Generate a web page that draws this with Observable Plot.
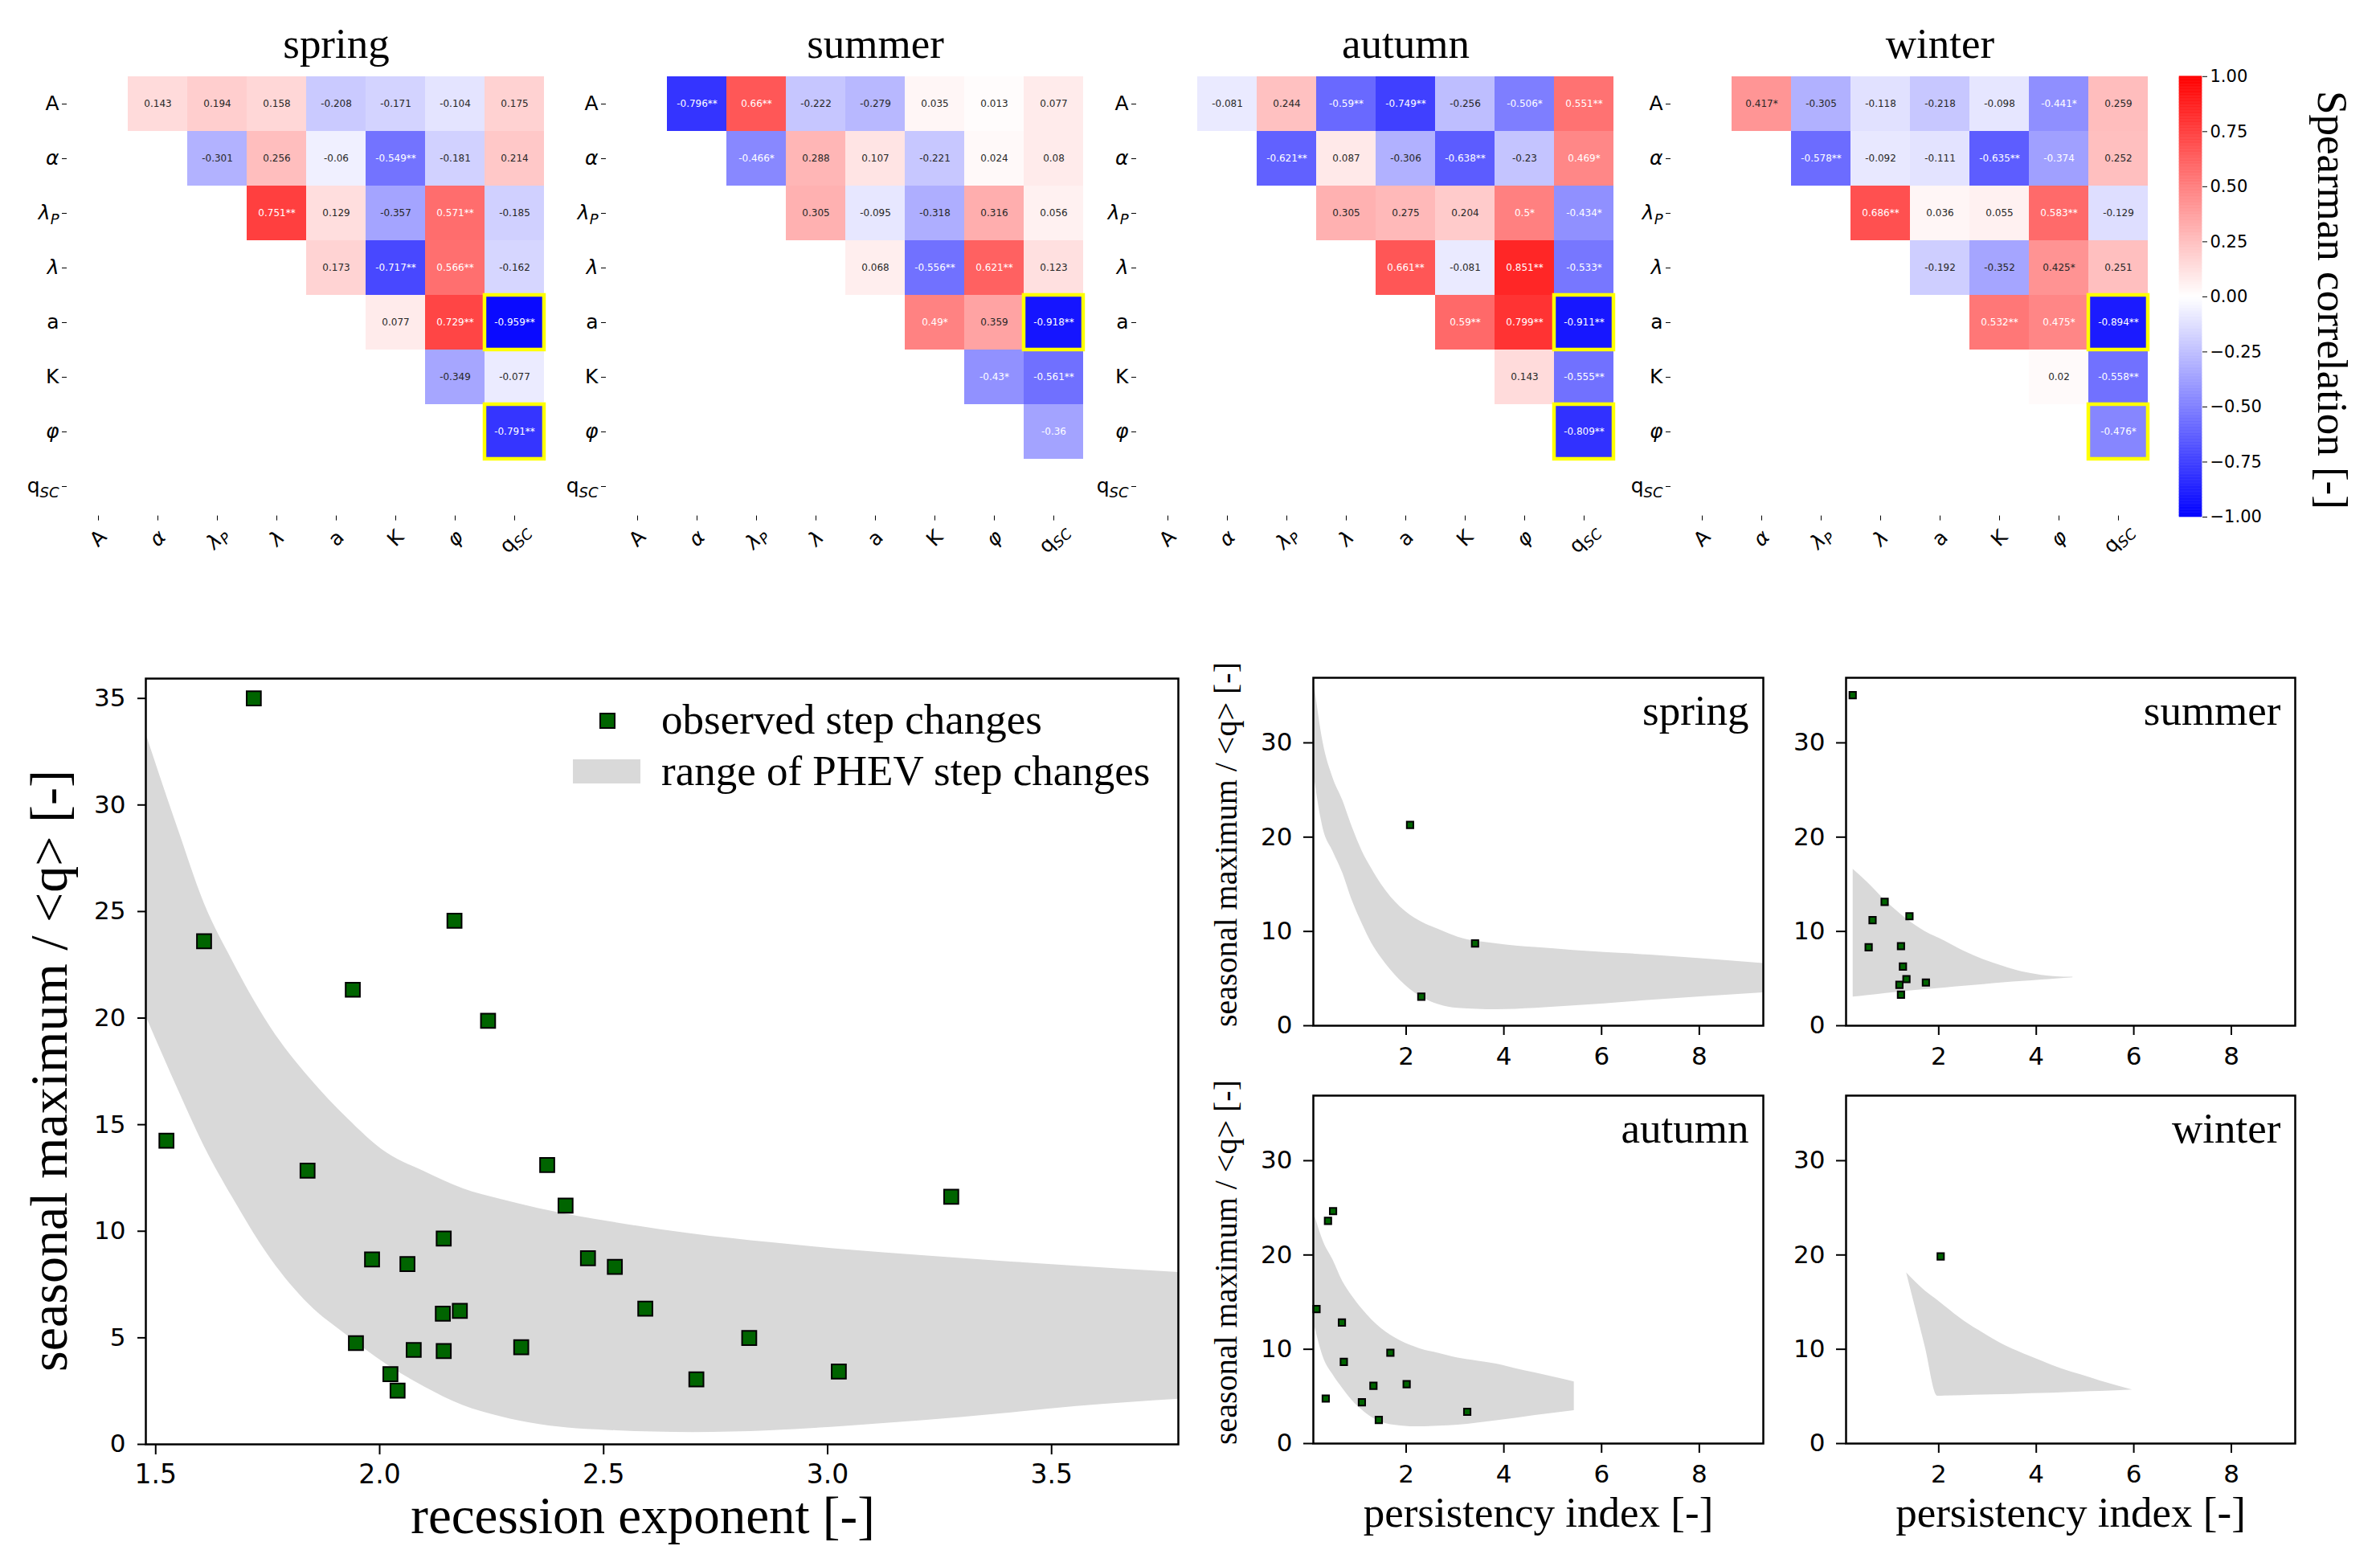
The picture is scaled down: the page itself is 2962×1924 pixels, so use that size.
<!DOCTYPE html>
<html>
<head>
<meta charset="utf-8">
<script src="https://cdn.jsdelivr.net/npm/d3@7"></script>
<script src="https://cdn.jsdelivr.net/npm/@observablehq/plot@0.6"></script>
<style>
  body { margin: 0; background: #fff; }
  #root { position: relative; width: 2962px; height: 1924px; overflow: hidden; background: #fff; }
  #root > svg, #root > div { position: absolute; }
  .serif { font-family: "Liberation Serif", "Times New Roman", serif; color: #000; white-space: nowrap; line-height: 1; }
</style>
</head>
<body>
<div id="root"></div>
<script>
// ---------------- DATA ----------------
const vars = ["A", "α", "λP", "λ", "a", "K", "φ", "qSC"];

// upper-triangle Spearman correlations, row by row (row i -> columns i+1..7)
const springCorr = [
  ["0.143", "0.194", "0.158", "-0.208", "-0.171", "-0.104", "0.175"],
  ["-0.301", "0.256", "-0.06", "-0.549**", "-0.181", "0.214"],
  ["0.751**", "0.129", "-0.357", "0.571**", "-0.185"],
  ["0.173", "-0.717**", "0.566**", "-0.162"],
  ["0.077", "0.729**", "-0.959**"],
  ["-0.349", "-0.077"],
  ["-0.791**"]
];
const summerCorr = [
  ["-0.796**", "0.66**", "-0.222", "-0.279", "0.035", "0.013", "0.077"],
  ["-0.466*", "0.288", "0.107", "-0.221", "0.024", "0.08"],
  ["0.305", "-0.095", "-0.318", "0.316", "0.056"],
  ["0.068", "-0.556**", "0.621**", "0.123"],
  ["0.49*", "0.359", "-0.918**"],
  ["-0.43*", "-0.561**"],
  ["-0.36"]
];
const autumnCorr = [
  ["-0.081", "0.244", "-0.59**", "-0.749**", "-0.256", "-0.506*", "0.551**"],
  ["-0.621**", "0.087", "-0.306", "-0.638**", "-0.23", "0.469*"],
  ["0.305", "0.275", "0.204", "0.5*", "-0.434*"],
  ["0.661**", "-0.081", "0.851**", "-0.533*"],
  ["0.59**", "0.799**", "-0.911**"],
  ["0.143", "-0.555**"],
  ["-0.809**"]
];
const winterCorr = [
  ["0.417*", "-0.305", "-0.118", "-0.218", "-0.098", "-0.441*", "0.259"],
  ["-0.578**", "-0.092", "-0.111", "-0.635**", "-0.374", "0.252"],
  ["0.686**", "0.036", "0.055", "0.583**", "-0.129"],
  ["-0.192", "-0.352", "0.425*", "0.251"],
  ["0.532**", "0.475*", "-0.894**"],
  ["0.02", "-0.558**"],
  ["-0.476*"]
];
// highlighted (row, column) cells
const springHighlight = [["a", "qSC"], ["φ", "qSC"]];
const summerHighlight = [["a", "qSC"]];
const autumnHighlight = [["a", "qSC"], ["φ", "qSC"]];
const winterHighlight = [["a", "qSC"], ["φ", "qSC"]];

const colorbarTicks = [-1, -0.75, -0.5, -0.25, 0, 0.25, 0.5, 0.75, 1];

// big scatter: all observed step changes
const obsExponent = [1.719, 1.608, 1.524, 1.839, 1.940, 2.167, 2.242, 2.374, 2.415, 3.276, 2.143, 1.983, 2.062, 2.465, 2.525, 2.593, 2.141, 2.179, 1.947, 2.076, 2.143, 2.316, 2.825, 2.024, 2.040, 2.707, 3.025];
const obsMaxRatio = [35.0, 23.61, 14.25, 12.84, 21.33, 24.57, 19.87, 13.11, 11.20, 11.62, 9.66, 8.68, 8.46, 8.73, 8.33, 6.37, 6.13, 6.26, 4.75, 4.43, 4.38, 4.56, 4.99, 3.29, 2.52, 3.05, 3.42];
// PHEV range vs recession exponent
const bandExponent = [1.478, 1.551, 1.608, 1.671, 1.757, 1.843, 1.928, 2.014, 2.10, 2.186, 2.27, 2.357, 2.528, 2.70, 2.871, 3.04, 3.21, 3.385, 3.556, 3.783];
const bandExpUpper = [33.35, 28.8, 25.4, 22.7, 19.55, 17.2, 15.3, 13.7, 12.8, 12.0, 11.5, 11.06, 10.4, 9.87, 9.47, 9.13, 8.86, 8.6, 8.36, 8.07];
const bandExpLower = [20.1, 16.6, 14.0, 11.6, 8.7, 6.55, 5.1, 3.77, 2.7, 1.83, 1.3, 0.93, 0.64, 0.56, 0.64, 0.85, 1.11, 1.43, 1.78, 2.12];
const bigXTicks = [1.5, 2.0, 2.5, 3.0, 3.5];
const bigYTicks = [0, 5, 10, 15, 20, 25, 30, 35];

// seasonal panels: persistency index vs seasonal maximum
const springPI = [2.08, 3.41, 2.31];
const springMax = [21.3, 8.73, 3.08];
const summerPI = [0.236, 0.891, 0.643, 1.40, 0.563, 1.226, 1.266, 1.338, 1.194, 1.737, 1.226];
const summerMax = [35.06, 13.13, 11.19, 11.61, 8.32, 8.44, 6.28, 4.94, 4.34, 4.58, 3.29];
const autumnPI = [0.504, 0.40, 0.165, 0.685, 1.677, 0.724, 1.33, 2.01, 0.354, 1.094, 1.44, 3.25];
const autumnMax = [24.65, 23.61, 14.27, 12.84, 9.63, 8.66, 6.13, 6.29, 4.77, 4.38, 2.50, 3.37];
const winterPI = [2.04];
const winterMax = [19.85];

const springBandPI = [0.12, 0.3, 0.5, 0.7, 0.9, 1.1, 1.3, 1.49, 1.88, 2.28, 2.67, 3.06, 3.85, 4.64, 5.42, 7.0, 9.31];
const springBandUpper = [36.2, 30.0, 26.3, 23.9, 21.0, 18.5, 16.6, 15.0, 12.6, 11.1, 10.2, 9.4, 8.7, 8.3, 8.0, 7.5, 6.6];
const springBandLower = [26.3, 20.9, 18.5, 16.2, 13.2, 10.8, 8.7, 7.2, 4.8, 3.14, 2.24, 1.85, 1.7, 1.85, 2.1, 2.7, 3.5];
const summerBandPI = [0.244, 0.52, 0.92, 1.32, 1.72, 2.12, 2.52, 2.92, 3.32, 3.72, 4.11, 4.4, 4.75];
const summerBandUpper = [16.6, 15.3, 13.2, 11.4, 10.0, 9.0, 7.9, 7.0, 6.3, 5.7, 5.35, 5.2, 5.15];
const summerBandLower = [3.05, 3.2, 3.44, 3.64, 3.83, 4.0, 4.19, 4.37, 4.55, 4.7, 4.85, 4.97, 5.09];
const autumnBandPI = [0.134, 0.307, 0.50, 0.70, 0.90, 1.094, 1.30, 1.49, 1.88, 2.28, 2.67, 3.06, 3.45, 3.85, 4.24, 4.64, 5.04, 5.44];
const autumnBandUpper = [24.07, 21.4, 19.5, 17.2, 15.6, 14.3, 13.1, 12.2, 10.9, 10.06, 9.57, 9.08, 8.76, 8.43, 7.95, 7.5, 7.04, 6.55];
const autumnBandLower = [12.3, 9.1, 7.3, 5.84, 4.54, 3.57, 2.76, 2.27, 1.88, 1.78, 1.85, 1.95, 2.17, 2.43, 2.69, 2.98, 3.24, 3.5];
const winterBandPI = [1.34, 1.53, 1.72, 1.976, 2.12, 2.52, 2.92, 3.32, 3.72, 4.11, 4.51, 4.91, 5.31, 5.97];
const winterBandUpper = [18.1, 17.1, 16.2, 15.2, 14.6, 13.0, 11.7, 10.5, 9.57, 8.76, 7.95, 7.3, 6.65, 5.68];
const winterBandLower = [18.1, 14.2, 10.3, 5.03, 5.05, 5.1, 5.15, 5.2, 5.27, 5.33, 5.4, 5.47, 5.53, 5.68];
const smallXTicks = [2, 4, 6, 8];
const smallYTicks = [0, 10, 20, 30];

// ---------------- HELPERS ----------------
const root = document.getElementById("root");
const serif = '"Liberation Serif", "Times New Roman", serif';
const sans = '"DejaVu Sans", "Liberation Sans", sans-serif';
const colorScale = {type: "linear", domain: [-1, 0, 1], range: ["blue", "white", "red"], interpolate: "rgb"};
const baseStyle = {background: "transparent", overflow: "visible", maxWidth: "none", fontFamily: sans, color: "#000"};

// text colour decision (seaborn-style luminance rule)
const bwr = d3.scaleLinear().domain([-1, 0, 1]).range(["blue", "white", "red"]).interpolate(d3.interpolateRgb);
function darkText(v) {
  const c = d3.rgb(bwr(v));
  const lin = x => { x /= 255; return x <= 0.03928 ? x / 12.92 : Math.pow((x + 0.055) / 1.055, 2.4); };
  return 0.2126 * lin(c.r) + 0.7152 * lin(c.g) + 0.0722 * lin(c.b) > 0.415;
}

function place(el, left, top) {
  el.style.left = left + "px";
  el.style.top = top + "px";
  root.appendChild(el);
}

function styleVarLabels(svg) {
  svg.querySelectorAll('[aria-label="x-axis tick label"] text, [aria-label="y-axis tick label"] text').forEach(t => {
    const s = t.textContent;
    if (s === "λP") t.innerHTML = '<tspan font-style="italic">λ</tspan><tspan font-style="italic" font-size="0.72em" dy="0.3em">P</tspan>';
    else if (s === "qSC") t.innerHTML = 'q<tspan font-style="italic" font-size="0.72em" dy="0.3em">SC</tspan>';
    else if (s === "α" || s === "λ" || s === "φ") t.setAttribute("font-style", "italic");
  });
}

// ---------------- HEATMAPS ----------------
function heatmap(season, corr, highlight, axesLeft) {
  const cells = [];
  corr.forEach((row, i) => row.forEach((lab, k) => {
    cells.push({row: vars[i], col: vars[i + 1 + k], value: parseFloat(lab), label: lab});
  }));
  const hl = highlight.map(([r, c]) => ({row: r, col: c}));
  const ml = 80, mt = 93.3, mr = 12, mb = 90;
  const innerW = 8 * 74.4, innerH = 8 * 68.54;
  const svg = Plot.plot({
    width: ml + innerW + mr, height: mt + innerH + mb,
    marginLeft: ml, marginRight: mr, marginTop: mt, marginBottom: mb,
    style: {...baseStyle, fontSize: "25px"},
    x: {domain: vars, padding: 0, label: null},
    y: {domain: vars, padding: 0, label: null},
    color: colorScale,
    marks: [
      Plot.cell(cells, {x: "col", y: "row", fill: "value", inset: 0, shapeRendering: "crispEdges"}),
      Plot.text(cells.filter(d => darkText(d.value)), {x: "col", y: "row", text: "label", fill: "#262626", fontSize: 12, fontFamily: sans}),
      Plot.text(cells.filter(d => !darkText(d.value)), {x: "col", y: "row", text: "label", fill: "white", fontSize: 12, fontFamily: sans}),
      Plot.cell(hl, {x: "col", y: "row", fill: "none", stroke: "#ffff00", strokeWidth: 4.5, inset: 0}),
      Plot.axisX({tickSize: 6, tickPadding: 22, tickRotate: -45, textAnchor: "middle", lineAnchor: "middle", fontSize: 25, label: null}),
      Plot.axisY({tickSize: 6, tickPadding: 4, fontSize: 25, label: null}),
      Plot.text([season], {x: () => "a", frameAnchor: "top", dy: -22, lineAnchor: "bottom", fontSize: 53, fontFamily: serif, fill: "black"})
    ]
  });
  styleVarLabels(svg);
  place(svg, axesLeft - ml, 0);
}
heatmap("spring", springCorr, springHighlight, 82.6);
heatmap("summer", summerCorr, summerHighlight, 753.7);
heatmap("autumn", autumnCorr, autumnHighlight, 1413.5);
heatmap("winter", winterCorr, winterHighlight, 2079.3);

// colorbar
{
  const step = 0.005;
  const stops = d3.range(-1, 1, step);
  const svg = Plot.plot({
    width: 262, height: 663, marginLeft: 12, marginRight: 222, marginTop: 94.8, marginBottom: 20,
    style: {...baseStyle, fontSize: "21px"},
    y: {domain: [-1, 1], label: null},
    color: colorScale,
    marks: [
      Plot.rect(stops, {y1: d => d, y2: d => d + step, fill: d => d + step / 2, stroke: d => d + step / 2, strokeWidth: 0.6}),
      Plot.axisY({anchor: "right", ticks: colorbarTicks, tickFormat: d3.format(".2f"), tickSize: 6, tickPadding: 4, fontSize: 21, label: null}),
      Plot.text(["Spearman correlation [-]"], {frameAnchor: "right", dx: 161, dy: 4, rotate: 90, textAnchor: "middle", lineAnchor: "middle", fontSize: 53, fontFamily: serif, fill: "black"})
    ]
  });
  place(svg, 2700, 0);
}

// ---------------- BIG SCATTER ----------------
{
  const pts = obsExponent.map((x, i) => ({x, y: obsMaxRatio[i]}));
  const band = bandExponent.map((x, i) => ({x, lo: bandExpLower[i], hi: bandExpUpper[i]}));
  const svg = Plot.plot({
    width: 1500, height: 1124, marginLeft: 181, marginRight: 34, marginTop: 44, marginBottom: 127,
    style: {...baseStyle, fontSize: "32px"},
    x: {domain: [1.478, 3.783], label: null},
    y: {domain: [0, 35.93], label: null},
    marks: [
      Plot.areaY(band, {x: "x", y1: "lo", y2: "hi", fill: "#d9d9d9", curve: "monotone-x", clip: true}),
      Plot.dot(pts, {x: "x", y: "y", symbol: "square", r: 10, fill: "#006400", stroke: "black", strokeWidth: 2}),
      Plot.frame({stroke: "black", strokeWidth: 2.5}),
      Plot.axisX({ticks: bigXTicks, tickFormat: d3.format(".1f"), tickSize: 13, tickPadding: 12, fontSize: 33, strokeWidth: 2, label: null}),
      Plot.axisY({ticks: bigYTicks, tickSize: 10, tickPadding: 15, fontSize: 31, strokeWidth: 2, label: null}),
      Plot.text(["recession exponent [-]"], {frameAnchor: "bottom", dx: -24, dy: 110, lineAnchor: "bottom", fontSize: 65, fontFamily: serif, fill: "black"}),
      Plot.text(["seasonal maximum / <q> [-]"], {frameAnchor: "left", rotate: -90, dx: -120, dy: 11.5, textAnchor: "middle", lineAnchor: "middle", fontSize: 66, fontFamily: serif, fill: "black"})
    ]
  });
  place(svg, 0, 800);

  // legend
  const leg = document.createElement("div");
  leg.style.left = "0px"; leg.style.top = "0px"; leg.style.width = "2962px"; leg.style.height = "1924px";
  leg.innerHTML = `
    <div style="position:absolute;left:746px;top:887px;width:16px;height:16px;background:#006400;border:2px solid #000;"></div>
    <div style="position:absolute;left:713px;top:945px;width:84px;height:30px;background:#d9d9d9;"></div>
    <div class="serif" style="position:absolute;left:823px;top:869px;font-size:53px;">observed step changes</div>
    <div class="serif" style="position:absolute;left:823px;top:933px;font-size:53px;">range of PHEV step changes</div>`;
  root.appendChild(leg);
}

// ---------------- SEASONAL PANELS ----------------
function panel(season, xs, ys, bx, bu, bl, opts) {
  const pts = xs.map((x, i) => ({x, y: ys[i]}));
  const band = bx.map((x, i) => ({x, lo: bl[i], hi: bu[i]}));
  const marks = [
    Plot.areaY(band, {x: "x", y1: "lo", y2: "hi", fill: "#d9d9d9", curve: "monotone-x", clip: true}),
    Plot.dot(pts, {x: "x", y: "y", symbol: "square", r: 4.6, fill: "#006400", stroke: "black", strokeWidth: 2}),
    Plot.frame({stroke: "black", strokeWidth: 2.5}),
    Plot.axisX({ticks: smallXTicks, tickSize: 12, tickPadding: 14, fontSize: 31, strokeWidth: 2, label: null}),
    Plot.axisY({ticks: smallYTicks, tickSize: 12, tickPadding: 14, fontSize: 31, strokeWidth: 2, label: null}),
    Plot.text([season], {frameAnchor: "top-right", dx: -18, dy: 58, textAnchor: "end", lineAnchor: "bottom", fontSize: 53, fontFamily: serif, fill: "black"})
  ];
  if (opts.ylab) marks.push(Plot.text(["seasonal maximum / <q> [-]"], {frameAnchor: "left", rotate: -90, dx: -108, dy: -9, textAnchor: "middle", lineAnchor: "middle", fontSize: 40, fontFamily: serif, fill: "black"}));
  if (opts.xlab) marks.push(Plot.text(["persistency index [-]"], {frameAnchor: "bottom", dy: 103, lineAnchor: "bottom", fontSize: 53, fontFamily: serif, fill: "black"}));
  const svg = Plot.plot({
    width: opts.w, height: opts.h, marginLeft: opts.ml, marginRight: opts.mr, marginTop: 43, marginBottom: opts.h - 43 - 433,
    style: {...baseStyle, fontSize: "31px"},
    x: {domain: [0.1, 9.31], label: null},
    y: {domain: [0, 36.9], label: null},
    marks
  });
  place(svg, opts.left, opts.top);
}
panel("spring", springPI, springMax, springBandPI, springBandUpper, springBandLower, {left: 1480, top: 800, w: 730, h: 560, ml: 154, mr: 16, ylab: true});
panel("summer", summerPI, summerMax, summerBandPI, summerBandUpper, summerBandLower, {left: 2200, top: 800, w: 700, h: 560, ml: 97, mr: 44});
panel("autumn", autumnPI, autumnMax, autumnBandPI, autumnBandUpper, autumnBandLower, {left: 1480, top: 1320, w: 730, h: 604, ml: 154, mr: 16, ylab: true, xlab: true});
panel("winter", winterPI, winterMax, winterBandPI, winterBandUpper, winterBandLower, {left: 2200, top: 1320, w: 700, h: 604, ml: 97, mr: 44, xlab: true});
</script>
</body>
</html>
